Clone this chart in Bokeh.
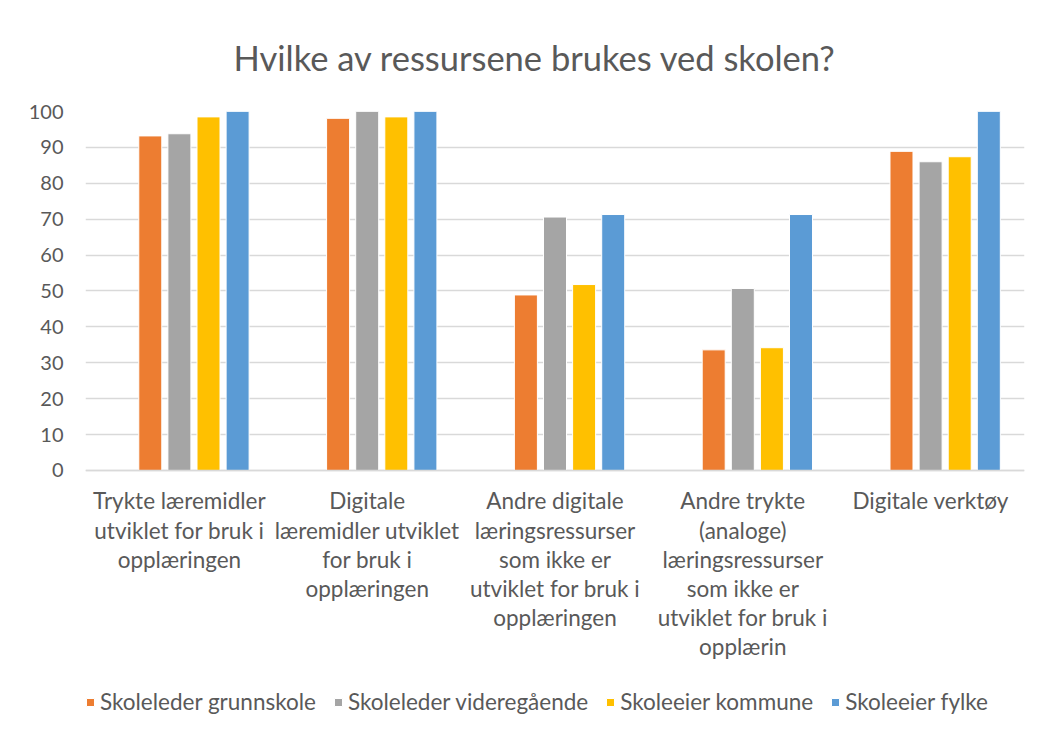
from bokeh.plotting import figure
from bokeh.models import ColumnDataSource, FactorRange, Legend, LegendItem, Range1d
from bokeh.transform import dodge
from bokeh.embed import file_html
from bokeh.resources import INLINE

categories = [
    "Trykte læremidler\nutviklet for bruk i\nopplæringen",
    "Digitale\nlæremidler utviklet\nfor bruk i\nopplæringen",
    "Andre digitale\nlæringsressurser\nsom ikke er\nutviklet for bruk i\nopplæringen",
    "Andre trykte\n(analoge)\nlæringsressurser\nsom ikke er\nutviklet for bruk i\nopplærin",
    "Digitale verktøy",
]
series_names = ["Skoleleder grunnskole", "Skoleleder videregående", "Skoleeier kommune", "Skoleeier fylke"]
grunnskole = [93.2, 98.1, 48.9, 33.6, 88.9]
videregaende = [93.8, 100.0, 70.6, 50.7, 86.0]
kommune = [98.5, 98.5, 51.8, 34.2, 87.4]
fylke = [100.0, 100.0, 71.3, 71.3, 100.0]
colors = ["#ED7D31", "#A5A5A5", "#FFC000", "#5B9BD5"]
y_ticks = [0, 10, 20, 30, 40, 50, 60, 70, 80, 90, 100]

source = ColumnDataSource(dict(cat=categories, s0=grunnskole, s1=videregaende, s2=kommune, s3=fylke))

FONT = "Lato"
TXT = "#595959"

# frame extended below zero so that category labels and legend live inside it
p = figure(
    x_range=FactorRange(*categories, range_padding=0, factor_padding=0),
    y_range=Range1d(-71.87, 100),
    frame_width=939, frame_height=617,
    output_backend="svg", toolbar_location=None,
    title="Hvilke av ressursene brukes ved skolen?",
    min_border_left=85, min_border_right=15, min_border_top=111, min_border_bottom=0,
)
p.title.align = "left"
p.title.offset = 148
p.title.text_font = FONT
p.title.text_font_size = "34.5px"
p.title.text_font_style = "normal"
p.title.text_color = TXT
p.title.standoff = 68

step = 0.155
bw = 0.1225
offsets = [-1 * step, 0.0, 1 * step, 2 * step]
items = []
for i, (name, col, off) in enumerate(zip(series_names, colors, offsets)):
    r = p.vbar(x=dodge("cat", off, range=p.x_range), top="s%d" % i, width=bw, source=source,
               fill_color=col, line_color="white", line_width=1)
    items.append(LegendItem(label=name, renderers=[r]))

p.outline_line_color = None
p.xgrid.grid_line_color = None
p.ygrid.grid_line_color = "#D9D9D9"
p.ygrid.grid_line_width = 1.5
p.yaxis.ticker = y_ticks
p.yaxis.axis_line_color = None
p.yaxis.major_tick_line_color = None
p.yaxis.minor_tick_line_color = None
p.yaxis.major_label_standoff = 16
p.yaxis.major_label_text_font = FONT
p.yaxis.major_label_text_font_size = "20px"
p.yaxis.major_label_text_color = TXT

p.xaxis.fixed_location = 0
p.xaxis.axis_line_color = "#D9D9D9"
p.xaxis.axis_line_width = 1.5
p.xaxis.major_tick_line_color = None
p.xaxis.major_tick_out = 0
p.xaxis.major_label_standoff = 17
p.xaxis.major_label_text_font = FONT
p.xaxis.major_label_text_font_size = "22.5px"
p.xaxis.major_label_text_color = TXT
p.xaxis.major_label_text_line_height = 1.08
p.xaxis.major_label_orientation = "horizontal"

legend = Legend(items=items, orientation="horizontal", location=(0, 13),
                label_text_font=FONT, label_text_font_size="22.5px", label_text_color=TXT,
                glyph_width=10, glyph_height=10, label_standoff=5, spacing=17,
                border_line_color=None, background_fill_alpha=0, margin=0, padding=0)
p.add_layout(legend, "center")

open("out.html", "w").write(file_html(p, INLINE))
